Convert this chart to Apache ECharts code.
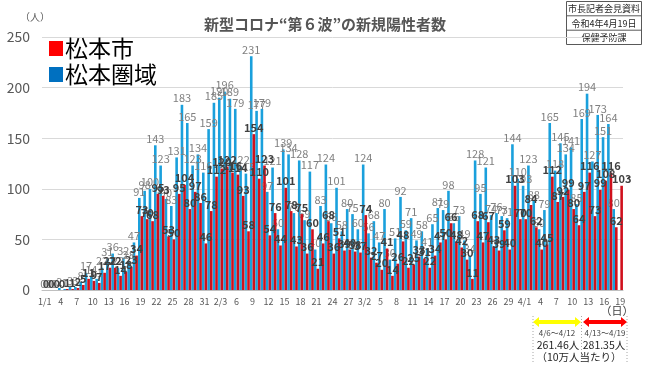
<!DOCTYPE html>
<html><head><meta charset="utf-8">
<script src="https://cdn.jsdelivr.net/npm/echarts@6/dist/echarts.min.js"></script>
<style>html,body{margin:0;padding:0;background:#fff}#c{width:650px;height:365px}</style>
</head><body><div id="c"></div>
<script>
const monthLengths = [31, 28, 31, 19];
const seriesNames = ['松本市', '松本圏域'];
const cityCases = [
  0,0,0,0,1,1,2,5,11,9,7,17,22,22,14,18,23,34,73,70,68,95,93,53,50,95,104,80,97,86,46,
  78,112,120,122,116,114,93,58,154,110,123,54,76,44,101,78,43,75,36,60,21,46,68,36,51,39,40,38,
  37,74,32,27,20,41,14,26,48,22,25,33,31,22,34,47,50,66,48,42,30,11,68,47,67,43,39,59,40,103,70,
  70,84,62,40,45,112,87,92,99,80,64,97,116,73,99,108,116,62,103
];
const areaCases = [
  0,0,0,2,1,3,3,8,17,14,11,22,31,36,22,32,28,47,91,98,100,143,123,90,83,131,183,165,123,134,116,
  159,185,190,196,189,179,122,115,231,177,179,97,121,60,139,134,76,128,69,117,40,83,124,66,101,58,80,75,
  60,124,56,68,47,80,30,51,92,59,71,49,58,41,65,81,79,98,66,73,49,34,128,95,121,74,76,73,71,144,110,
  103,123,88,60,79,165,118,145,134,141,85,169,194,127,173,151,164,80,null
];
const yTicks = [0, 50, 100, 150, 200, 250];
const infoBox = ['市長記者会見資料', '令和4年4月19日', '保健予防課'];
const periodLabels = ['4/6～4/12', '4/13～4/19'];
const periodRates = ['261.46人', '281.35人'];

// categories: every day, tick label shown every 3rd day
const categories = [];
const tickLabels = [];
let idx = 0;
monthLengths.forEach((len, mi) => {
  let firstShown = true;
  for (let d = 1; d <= len; d++) {
    categories.push((mi + 1) + '/' + d);
    if (idx % 3 === 0) {
      tickLabels.push(firstShown ? (mi + 1) + '/' + d : String(d));
      firstShown = false;
    } else tickLabels.push('');
    idx++;
  }
});

const FONT = '"Noto Sans CJK JP", "Noto Sans", sans-serif';
const chart = echarts.init(document.getElementById('c'), null, {renderer: 'canvas'});

function dblArrow(x1, x2, cy, color) {
  const h = 6, s = 2, w = 5;
  return {
    type: 'polygon',
    shape: {points: [[x1, cy], [x1 + h, cy - w], [x1 + h, cy - s], [x2 - h, cy - s], [x2 - h, cy - w], [x2, cy],
      [x2 - h, cy + w], [x2 - h, cy + s], [x1 + h, cy + s], [x1 + h, cy + w]]},
    style: {fill: color}
  };
}
function vline(x) {
  return {type: 'line', shape: {x1: x, y1: 316, x2: x, y2: 363}, style: {stroke: '#a6a6a6', lineWidth: 1, lineDash: [1, 2]}};
}

const graphics = [
  {type: 'text', left: 20, top: 12, style: {text: '（人）', font: '10px ' + FONT, fill: '#595959'}},
  {type: 'rect', shape: {x: 566.5, y: 1.5, width: 75, height: 43}, style: {fill: '#fff', stroke: '#595959', lineWidth: 1}},
  {type: 'line', shape: {x1: 566.5, y1: 15.8, x2: 641.5, y2: 15.8}, style: {stroke: '#595959', lineWidth: 1}},
  {type: 'line', shape: {x1: 566.5, y1: 30.2, x2: 641.5, y2: 30.2}, style: {stroke: '#595959', lineWidth: 1}},
  ...infoBox.map((t, i) => ({type: 'text', x: 604, y: 8.7 + i * 14.4,
    style: {text: t, font: '9px ' + FONT, fill: '#262626', align: 'center', verticalAlign: 'middle'}})),
  {type: 'text', x: 617, y: 311, style: {text: '（日）', font: '11px ' + FONT, fill: '#404040', align: 'center', verticalAlign: 'middle'}},
  vline(533), vline(581.5), vline(627),
  dblArrow(533, 581, 322, '#ffff00'),
  dblArrow(583, 627, 322, '#ff0000'),
  {type: 'text', x: 557, y: 333, style: {text: periodLabels[0], font: '8px ' + FONT, fill: '#404040', align: 'center', verticalAlign: 'middle'}},
  {type: 'text', x: 605, y: 333, style: {text: periodLabels[1], font: '8px ' + FONT, fill: '#404040', align: 'center', verticalAlign: 'middle'}},
  {type: 'text', x: 558, y: 345, style: {text: periodRates[0], font: '10.5px ' + FONT, fill: '#262626', align: 'center', verticalAlign: 'middle'}},
  {type: 'text', x: 604, y: 345, style: {text: periodRates[1], font: '10.5px ' + FONT, fill: '#262626', align: 'center', verticalAlign: 'middle'}},
  {type: 'text', x: 579, y: 357, style: {text: '（10万人当たり）', font: '10.5px ' + FONT, fill: '#262626', align: 'center', verticalAlign: 'middle'}}
];

chart.setOption({
  animation: false,
  textStyle: {fontFamily: FONT},
  title: {text: '新型コロナ“第６波”の新規陽性者数', left: 'center', top: 12,
    textStyle: {fontSize: 15, color: '#555', fontWeight: 'bold', fontFamily: FONT}},
  legend: {
    orient: 'vertical', left: 44, top: 32, itemWidth: 14, itemHeight: 15, itemGap: 3, selectedMode: false,
    icon: 'rect',
    textStyle: {fontSize: 23, color: '#000', fontFamily: FONT, padding: [0, 0, 0, -3]},
    data: [
      {name: seriesNames[0], itemStyle: {color: '#ff0000'}},
      {name: seriesNames[1], itemStyle: {color: '#0070c0'}}
    ]
  },
  grid: {left: 42, right: 27, top: 37, bottom: 75, containLabel: false},
  xAxis: {
    type: 'category', data: categories, boundaryGap: true,
    axisTick: {show: false},
    axisLine: {lineStyle: {color: '#bfbfbf'}},
    axisLabel: {interval: 0, margin: 7, fontSize: 9, color: '#595959',
      formatter: (v, i) => tickLabels[i]}
  },
  yAxis: {
    type: 'value', min: yTicks[0], max: yTicks[yTicks.length - 1], interval: 50,
    axisLine: {show: false}, axisTick: {show: false},
    splitLine: {lineStyle: {color: '#d9d9d9'}},
    axisLabel: {fontSize: 14, color: '#595959', margin: 12}
  },
  series: [
    {
      name: seriesNames[1], type: 'bar', data: areaCases, barWidth: 2.6, barGap: '0%',
      itemStyle: {color: '#1aa0dc'}, z: 2,
      label: {show: true, position: 'top', distance: 1, fontSize: 11, color: '#808080', fontFamily: FONT}
    },
    {
      name: seriesNames[0], type: 'bar', data: cityCases, barWidth: 2.6,
      itemStyle: {color: '#d0101c'}, z: 3,
      label: {show: true, position: 'top', distance: 1, fontSize: 11, color: '#404040', fontWeight: 'bold', fontFamily: FONT}
    }
  ],
  graphic: graphics
});
</script></body></html>
